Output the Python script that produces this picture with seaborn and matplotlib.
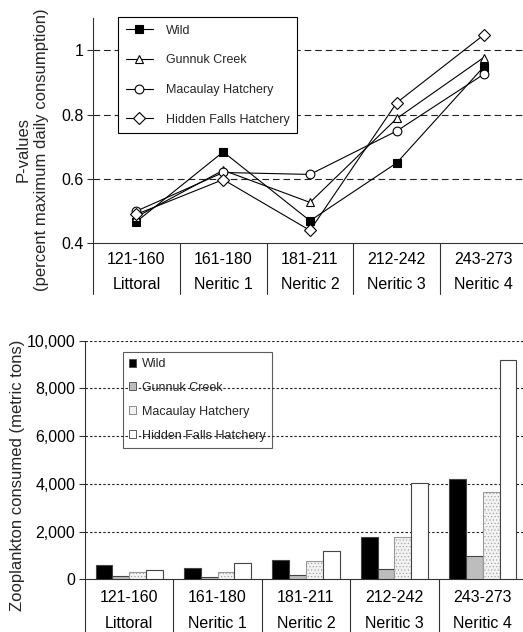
import matplotlib
matplotlib.use("Agg")
import matplotlib.pyplot as plt
import matplotlib.transforms as mtransforms
from matplotlib.patches import Patch
from matplotlib.ticker import FuncFormatter
import seaborn as sns
import pandas as pd

categories = ["121-160\nLittoral", "161-180\nNeritic 1", "181-211\nNeritic 2",
              "212-242\nNeritic 3", "243-273\nNeritic 4"]
series = ["Wild", "Gunnuk Creek", "Macaulay Hatchery", "Hidden Falls Hatchery"]

p_wild = [0.467, 0.684, 0.470, 0.650, 0.948]
p_gunnuk = [0.482, 0.627, 0.527, 0.788, 0.977]
p_macaulay = [0.500, 0.620, 0.614, 0.749, 0.925]
p_hidden = [0.490, 0.598, 0.440, 0.837, 1.047]

z_wild = [600, 490, 810, 1760, 4200]
z_gunnuk = [140, 80, 170, 420, 980]
z_macaulay = [290, 307, 780, 1760, 3650]
z_hidden = [377, 670, 1190, 4020, 9190]

p_vals = [p_wild, p_gunnuk, p_macaulay, p_hidden]
z_vals = [z_wild, z_gunnuk, z_macaulay, z_hidden]

df_p = pd.DataFrame([(c, s, v) for s, vals in zip(series, p_vals) for c, v in zip(categories, vals)],
                    columns=["cat", "series", "val"])
df_z = pd.DataFrame([(c, s, v) for s, vals in zip(series, z_vals) for c, v in zip(categories, vals)],
                    columns=["cat", "series", "val"])

sns.set_theme(style="white")
plt.rcParams['font.family'] = ['Liberation Sans', 'DejaVu Sans']
plt.rcParams['hatch.linewidth'] = 0.4

W, H = 523, 632
fig = plt.figure(figsize=(W / 100, H / 100), dpi=100)

def fx(px):
    return px / W

def fy(px):
    return 1 - px / H

# ---------------- Top chart ----------------
ax1 = fig.add_axes([fx(93), fy(243.3), fx(527 - 93), (243.3 - 18) / H])
markers = ['s', '^', 'o', 'D']
sns.pointplot(data=df_p, x="cat", y="val", hue="series", order=categories, hue_order=series,
              palette=['black'] * 4, markers=markers, linestyles='-', errorbar=None,
              dodge=False, legend=False, ax=ax1, linewidth=0.8, markersize=6.3)
lines = [l for l in ax1.lines if l.get_marker() not in (None, '', 'None')]
faces = ['black', 'white', 'white', 'white']
for l, fc, m in zip(lines, faces, markers):
    l.set_markerfacecolor(fc)
    l.set_markeredgecolor('black')
    l.set_markeredgewidth(0.8)
    l.set_linewidth(0.8)
    l.set_zorder(3)
    if m == 'D':
        l.set_markersize(5.7)
ax1.set_ylim(0.4, 1.1)
ax1.set_xlim(-0.5, 4.5)
ax1.set_yticks([0.4, 0.6, 0.8, 1.0])
ax1.set_yticklabels(["0.4", "0.6", "0.8", "1"])
for yv in [0.6, 0.8, 1.0]:
    ax1.axhline(yv, color='#222222', lw=0.8, ls=(0, (6, 3.5)), zorder=1)
ax1.set_xlabel("")
ax1.set_ylabel("P-values\n(percent maximum daily consumption)", fontsize=12, linespacing=1.3)
ax1.yaxis.set_label_coords(-0.101, 0.415)

leg1 = ax1.legend(lines, series, loc='upper left', bbox_to_anchor=(fx(118), fy(17)),
                  bbox_transform=fig.transFigure, fontsize=9, frameon=True, fancybox=False,
                  edgecolor='black', framealpha=1, labelspacing=1.42, handlelength=2.2,
                  handletextpad=1.0, borderpad=0.6, borderaxespad=0)
leg1.get_frame().set_linewidth(0.8)
leg1.set_zorder(5)

# ---------------- Bottom chart ----------------
ax2 = fig.add_axes([fx(85), fy(579.3), fx(527 - 85), (579.3 - 340.7) / H])
sns.barplot(data=df_z, x="cat", y="val", hue="series", order=categories, hue_order=series,
            palette=['black', '#bdbdbd', '#f2f2f2', 'white'], width=0.76, gap=0,
            errorbar=None, legend=False, ax=ax2, edgecolor='#444444', linewidth=0.8, saturation=1)
hatches = ['', '', '.....', '']
for i, cont in enumerate(ax2.containers):
    for bar in cont:
        bar.set_hatch(hatches[i])
        bar.set_zorder(3)
        if i == 2:
            bar.set_edgecolor('#9a9a9a')
ax2.set_ylim(0, 10000)
ax2.set_xlim(-0.5, 4.5)
ax2.set_yticks(range(0, 10001, 2000))
ax2.yaxis.set_major_formatter(FuncFormatter(lambda v, p: f"{int(v):,}"))
for yv in range(2000, 10001, 2000):
    ax2.axhline(yv, color='#222222', lw=0.8, ls=(0, (2.2, 1.8)), zorder=1)
ax2.set_xlabel("")
ax2.set_ylabel("Zooplankton consumed (metric tons)", fontsize=12)
ax2.yaxis.set_label_coords(-0.135, 0.437)

handles = [Patch(facecolor='black', edgecolor='#444444', lw=0.6),
           Patch(facecolor='#bdbdbd', edgecolor='#444444', lw=0.6),
           Patch(facecolor='#f2f2f2', edgecolor='#777777', lw=0.6),
           Patch(facecolor='white', edgecolor='#444444', lw=0.6)]
leg2 = ax2.legend(handles, series, loc='upper left', bbox_to_anchor=(fx(122.7), fy(351.7)),
                  bbox_transform=fig.transFigure, fontsize=9, frameon=True, fancybox=False,
                  edgecolor='#333333', facecolor='none', framealpha=None, labelspacing=0.95,
                  handlelength=0.6, handleheight=0.6, handletextpad=0.45, borderpad=0.5,
                  borderaxespad=0)
leg2.get_frame().set_linewidth(0.8)

# ---------------- Common styling ----------------
for ax, depth, xpad in [(ax1, 0.225, 6), (ax2, 0.3, 8)]:
    for s in ['top', 'right']:
        ax.spines[s].set_visible(False)
    for s in ['left', 'bottom']:
        ax.spines[s].set_color('#333333')
        ax.spines[s].set_linewidth(0.8)
    ax.grid(False)
    ax.tick_params(axis='y', left=True, length=4, width=0.8, color='#333333',
                   labelsize=11.5, pad=3, labelcolor='black')
    ax.tick_params(axis='x', bottom=False, length=0, labelsize=11.5, pad=xpad, labelcolor='black')
    ax.set_xticks(range(len(categories)))
    ax.set_xticklabels(categories, linespacing=1.9)
    trans = mtransforms.blended_transform_factory(ax.transData, ax.transAxes)
    for b in range(len(categories) + 1):
        ax.plot([b - 0.5, b - 0.5], [0, -depth], color='#333333', lw=0.8,
                transform=trans, clip_on=False)

fig.savefig("out.png", dpi=100)
